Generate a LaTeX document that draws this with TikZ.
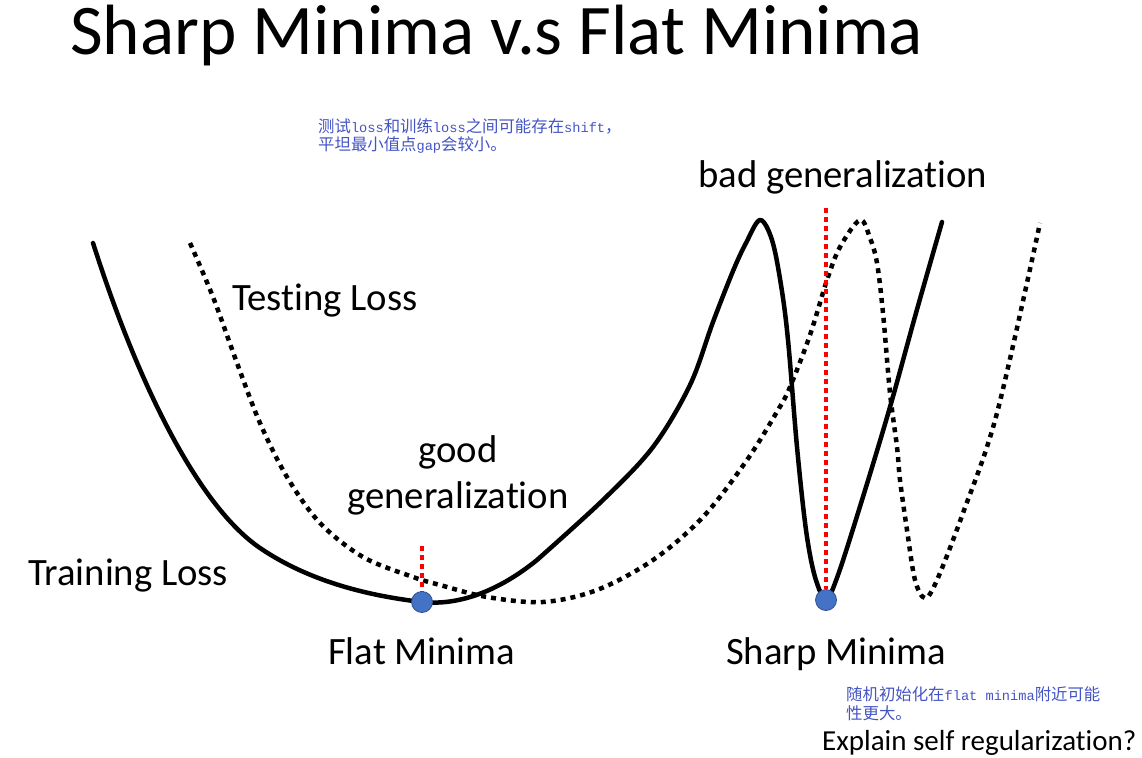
\documentclass[tikz,border=0pt]{standalone}
\usepackage{fontspec}
\setmainfont[Ligatures=NoCommon]{Carlito}
\newfontfamily\cjkfont{Noto Sans CJK SC}
\newfontfamily\latfont[Scale=0.833]{Liberation Mono}
\newcommand\lat[1]{{\latfont #1}}
\definecolor{notecol}{RGB}{68,84,196}
\definecolor{dotfill}{RGB}{68,114,196}
\definecolor{dotdraw}{RGB}{47,82,143}
\pgfdeclarelayer{bg}
\pgfsetlayers{bg,main}
\tikzset{
  lbl/.style={inner sep=0pt, font=\fontsize{38.7}{46}\selectfont},
  note/.style={inner sep=0pt, text=notecol, font=\fontsize{16.4}{19}\selectfont\cjkfont},
  train/.style={line width=4.5pt, line cap=round, line join=round},
  test/.style={line width=4.5pt, dash pattern=on 5pt off 5pt},
  redline/.style={line width=4.5pt, red, dash pattern=on 4.5pt off 4.5pt},
  minpt/.style={circle, fill=dotfill, draw=dotdraw, line width=0.8pt, minimum size=21pt, inner sep=0pt}
}
\begin{document}
\begin{tikzpicture}[x=1pt,y=-1pt]
\useasboundingbox (0,0) rectangle (1142,757);
% title
\node[inner sep=0pt, anchor=base west, font=\fontsize{71.2}{80}\selectfont] (title) at (70,55) {Sharp Minima v.s Flat Minima};
% minima
\node[minpt] (flat) at (422,602) {};
\node[minpt] (sharp) at (826,600) {};
\coordinate (flattop) at (422,546);
\coordinate (sharptop) at (826,208);
\begin{pgfonlayer}{bg}
% training loss
\draw[train] (93,243) .. controls (140,390) and (200,507) .. (260,548)
  .. controls (310,582) and (370,596) .. (422,602)
  .. controls (460,606) and (500,590) .. (537,560)
  plot[smooth, tension=0.55] coordinates {(537,560) (603,500) (653,447) (690,385) (713,322) (733,271) (746,243) (760,220) (772,240) (781,285) (788,340) (797,447) (806,530) (815,577) (826,599) (838,575) (862,500) (890,407) (916,313) (942,222)};
% testing loss
\draw[test] plot[smooth, tension=0.55] coordinates {(190,243) (213,297) (237,363) (260,423) (287,477) (320,523) (363,557) (413,577) (440,585) (487,597) (543,602) (597,590) (653,560) (703,517) (747,460) (778,410) (790,387) (810,335) (827,280) (840,247) (860,220) (870,238) (877,263) (883,313) (890,393) (897,447) (900,480) (907,530) (915,580) (925,598) (937,580) (963,513) (997,413) (1040,223)};
\draw[redline] (flattop) -- (flat.north);
\draw[redline] (sharptop) -- (sharp.north);
\end{pgfonlayer}
% labels
\node[lbl, anchor=base west] (bad) at (698,187) {bad generalization};
\node[lbl, anchor=base west] (testing) at (232,310) {Testing Loss};
\node[lbl, anchor=base] (good) at (458,462) {good};
\node[lbl, anchor=base] (goodgen) at (458,508) {generalization};
\node[lbl, anchor=base west] (training) at (28,585) {Training Loss};
\node[lbl, anchor=base west] (flatlbl) at (328,664) {Flat Minima};
\node[lbl, anchor=base west] (sharplbl) at (726,664) {Sharp Minima};
\node[inner sep=0pt, anchor=base west, font=\fontsize{29}{34}\selectfont] (explain) at (822,750) {Explain self regularization?};
% notes
\node[note, anchor=base west] (n1a) at (318,132) {测试\lat{loss}和训练\lat{loss}之间可能存在\lat{shift}，};
\node[note, anchor=base west] (n1b) at (318,150) {平坦最小值点\lat{gap}会较小。};
\node[note, anchor=base west] (n2a) at (846,700) {随机初始化在\lat{flat minima}附近可能};
\node[note, anchor=base west] (n2b) at (846,719) {性更大。};
\end{tikzpicture}
\end{document}
